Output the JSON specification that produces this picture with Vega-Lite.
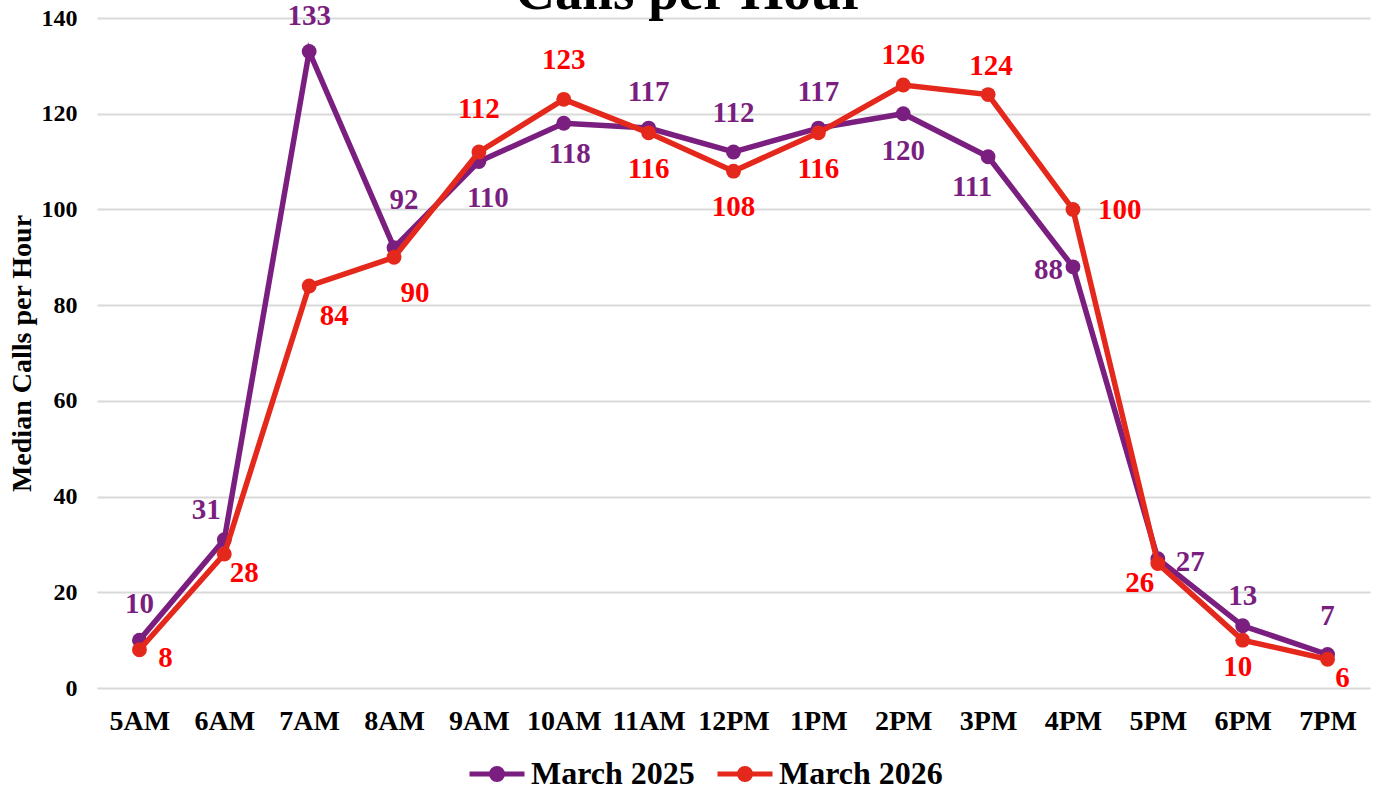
{
  "$schema": "https://vega.github.io/schema/vega-lite/v6.json",
  "width": 1273,
  "height": 670,
  "autosize": {"type": "none"},
  "padding": {"left": 97, "top": 18, "right": 9, "bottom": 102},
  "background": "white",
  "title": {"text": "Calls per Hour", "font": "Liberation Serif", "fontSize": 55, "fontWeight": "bold", "color": "black", "anchor": "middle", "baseline": "alphabetic", "offset": -62, "dx": -43},
  "config": {
    "view": {"stroke": null},
    "text": {"font": "Liberation Serif", "fontSize": 29, "fontWeight": "bold", "baseline": "middle", "align": "center"}
  },
  "data": {"values": [
    {"hour": "5AM", "series": "March 2025", "calls": 10},
    {"hour": "6AM", "series": "March 2025", "calls": 31},
    {"hour": "7AM", "series": "March 2025", "calls": 133},
    {"hour": "8AM", "series": "March 2025", "calls": 92},
    {"hour": "9AM", "series": "March 2025", "calls": 110},
    {"hour": "10AM", "series": "March 2025", "calls": 118},
    {"hour": "11AM", "series": "March 2025", "calls": 117},
    {"hour": "12PM", "series": "March 2025", "calls": 112},
    {"hour": "1PM", "series": "March 2025", "calls": 117},
    {"hour": "2PM", "series": "March 2025", "calls": 120},
    {"hour": "3PM", "series": "March 2025", "calls": 111},
    {"hour": "4PM", "series": "March 2025", "calls": 88},
    {"hour": "5PM", "series": "March 2025", "calls": 27},
    {"hour": "6PM", "series": "March 2025", "calls": 13},
    {"hour": "7PM", "series": "March 2025", "calls": 7},
    {"hour": "5AM", "series": "March 2026", "calls": 8},
    {"hour": "6AM", "series": "March 2026", "calls": 28},
    {"hour": "7AM", "series": "March 2026", "calls": 84},
    {"hour": "8AM", "series": "March 2026", "calls": 90},
    {"hour": "9AM", "series": "March 2026", "calls": 112},
    {"hour": "10AM", "series": "March 2026", "calls": 123},
    {"hour": "11AM", "series": "March 2026", "calls": 116},
    {"hour": "12PM", "series": "March 2026", "calls": 108},
    {"hour": "1PM", "series": "March 2026", "calls": 116},
    {"hour": "2PM", "series": "March 2026", "calls": 126},
    {"hour": "3PM", "series": "March 2026", "calls": 124},
    {"hour": "4PM", "series": "March 2026", "calls": 100},
    {"hour": "5PM", "series": "March 2026", "calls": 26},
    {"hour": "6PM", "series": "March 2026", "calls": 10},
    {"hour": "7PM", "series": "March 2026", "calls": 6}
  ]},
  "encoding": {
    "x": {
      "field": "hour", "type": "ordinal",
      "sort": ["5AM","6AM","7AM","8AM","9AM","10AM","11AM","12PM","1PM","2PM","3PM","4PM","5PM","6PM","7PM"],
      "scale": {"type": "point", "padding": 0.5},
      "axis": {"title": null, "labelAngle": 0, "labelFont": "Liberation Serif", "labelFontSize": 28, "labelFontWeight": "bold", "labelColor": "black", "labelPadding": 19, "ticks": false, "domain": false, "grid": false}
    },
    "y": {
      "field": "calls", "type": "quantitative",
      "scale": {"domain": [0, 140], "nice": false},
      "axis": {"title": "Median Calls per Hour", "values": [0,20,40,60,80,100,120,140], "titleFont": "Liberation Serif", "titleFontSize": 28, "titleFontWeight": "bold", "titleColor": "black", "titleX": -75, "titleY": 335, "titleAngle": -90, "titleAlign": "center", "titleBaseline": "middle", "labelFont": "Liberation Serif", "labelFontSize": 24, "labelFontWeight": "bold", "labelColor": "black", "labelPadding": 20, "ticks": false, "domain": false, "grid": true, "gridColor": "#d9d9d9", "gridWidth": 2}
    }
  },
  "layer": [
    {
      "transform": [{"filter": {"field": "series", "equal": "March 2025"}}],
      "mark": {"type": "line", "strokeWidth": 5.5},
      "encoding": {"color": {"field": "series", "type": "nominal",
        "scale": {"domain": ["March 2025", "March 2026"], "range": ["#7A1F80", "#E4281B"]},
        "legend": {"title": null, "orient": "none", "legendX": 370, "legendY": 726, "direction": "horizontal",
          "labelFont": "Liberation Serif", "labelFontSize": 32, "labelFontWeight": "bold", "labelColor": "black", "labelOffset": 4, "columnPadding": 12, "labelLimit": 400,
          "symbolType": "M-1,0L1,0M-0.2,0A0.2,0.2 0 1,1 0.2,0A0.2,0.2 0 1,1 -0.2,0Z",
          "symbolSize": 3025, "symbolStrokeWidth": 5,
          "encode": {"symbols": {"update": {"fill": {"scale": "color", "field": "value"}, "stroke": {"scale": "color", "field": "value"}, "opacity": {"value": 1}}}}}}}
    },
    {
      "transform": [{"filter": {"field": "series", "equal": "March 2025"}}],
      "mark": {"type": "point", "filled": true, "size": 220, "opacity": 1},
      "encoding": {"color": {"field": "series", "type": "nominal"}}
    },
    {
      "transform": [{"filter": {"field": "series", "equal": "March 2026"}}],
      "mark": {"type": "line", "strokeWidth": 5.5},
      "encoding": {"color": {"field": "series", "type": "nominal"}}
    },
    {
      "transform": [{"filter": {"field": "series", "equal": "March 2026"}}],
      "mark": {"type": "point", "filled": true, "size": 220, "opacity": 1},
      "encoding": {"color": {"field": "series", "type": "nominal"}}
    },
    {"transform": [{"filter": {"and": [{"field": "series", "equal": "March 2025"}, {"field": "hour", "oneOf": ["5AM","7AM","11AM","1PM"]}]}}],
     "mark": {"type": "text", "color": "#7A1F80", "dy": -36}, "encoding": {"text": {"field": "calls", "type": "quantitative"}}},
    {"transform": [{"filter": {"and": [{"field": "series", "equal": "March 2025"}, {"field": "hour", "oneOf": ["12PM","7PM"]}]}}],
     "mark": {"type": "text", "color": "#7A1F80", "dy": -39}, "encoding": {"text": {"field": "calls", "type": "quantitative"}}},
    {"transform": [{"filter": {"and": [{"field": "series", "equal": "March 2025"}, {"field": "hour", "oneOf": ["6PM"]}]}}],
     "mark": {"type": "text", "color": "#7A1F80", "dy": -30}, "encoding": {"text": {"field": "calls", "type": "quantitative"}}},
    {"transform": [{"filter": {"and": [{"field": "series", "equal": "March 2025"}, {"field": "hour", "oneOf": ["6AM"]}]}}],
     "mark": {"type": "text", "color": "#7A1F80", "dx": -18, "dy": -30}, "encoding": {"text": {"field": "calls", "type": "quantitative"}}},
    {"transform": [{"filter": {"and": [{"field": "series", "equal": "March 2025"}, {"field": "hour", "oneOf": ["8AM"]}]}}],
     "mark": {"type": "text", "color": "#7A1F80", "dx": 10, "dy": -48}, "encoding": {"text": {"field": "calls", "type": "quantitative"}}},
    {"transform": [{"filter": {"and": [{"field": "series", "equal": "March 2025"}, {"field": "hour", "oneOf": ["9AM"]}]}}],
     "mark": {"type": "text", "color": "#7A1F80", "dx": 9, "dy": 36}, "encoding": {"text": {"field": "calls", "type": "quantitative"}}},
    {"transform": [{"filter": {"and": [{"field": "series", "equal": "March 2025"}, {"field": "hour", "oneOf": ["10AM"]}]}}],
     "mark": {"type": "text", "color": "#7A1F80", "dx": 6, "dy": 31}, "encoding": {"text": {"field": "calls", "type": "quantitative"}}},
    {"transform": [{"filter": {"and": [{"field": "series", "equal": "March 2025"}, {"field": "hour", "oneOf": ["2PM"]}]}}],
     "mark": {"type": "text", "color": "#7A1F80", "dy": 37}, "encoding": {"text": {"field": "calls", "type": "quantitative"}}},
    {"transform": [{"filter": {"and": [{"field": "series", "equal": "March 2025"}, {"field": "hour", "oneOf": ["3PM"]}]}}],
     "mark": {"type": "text", "color": "#7A1F80", "dx": -16, "dy": 30}, "encoding": {"text": {"field": "calls", "type": "quantitative"}}},
    {"transform": [{"filter": {"and": [{"field": "series", "equal": "March 2025"}, {"field": "hour", "oneOf": ["4PM"]}]}}],
     "mark": {"type": "text", "color": "#7A1F80", "align": "right", "dx": -10, "dy": 3}, "encoding": {"text": {"field": "calls", "type": "quantitative"}}},
    {"transform": [{"filter": {"and": [{"field": "series", "equal": "March 2025"}, {"field": "hour", "oneOf": ["5PM"]}]}}],
     "mark": {"type": "text", "color": "#7A1F80", "align": "left", "dx": 18, "dy": 3}, "encoding": {"text": {"field": "calls", "type": "quantitative"}}},
    {"transform": [{"filter": {"and": [{"field": "series", "equal": "March 2026"}, {"field": "hour", "oneOf": ["5AM"]}]}}],
     "mark": {"type": "text", "color": "#FF0000", "dx": 26, "dy": 8}, "encoding": {"text": {"field": "calls", "type": "quantitative"}}},
    {"transform": [{"filter": {"and": [{"field": "series", "equal": "March 2026"}, {"field": "hour", "oneOf": ["6AM"]}]}}],
     "mark": {"type": "text", "color": "#FF0000", "dx": 20, "dy": 19}, "encoding": {"text": {"field": "calls", "type": "quantitative"}}},
    {"transform": [{"filter": {"and": [{"field": "series", "equal": "March 2026"}, {"field": "hour", "oneOf": ["7AM"]}]}}],
     "mark": {"type": "text", "color": "#FF0000", "dx": 25, "dy": 30}, "encoding": {"text": {"field": "calls", "type": "quantitative"}}},
    {"transform": [{"filter": {"and": [{"field": "series", "equal": "March 2026"}, {"field": "hour", "oneOf": ["8AM"]}]}}],
     "mark": {"type": "text", "color": "#FF0000", "dx": 21, "dy": 36}, "encoding": {"text": {"field": "calls", "type": "quantitative"}}},
    {"transform": [{"filter": {"and": [{"field": "series", "equal": "March 2026"}, {"field": "hour", "oneOf": ["9AM"]}]}}],
     "mark": {"type": "text", "color": "#FF0000", "dy": -43}, "encoding": {"text": {"field": "calls", "type": "quantitative"}}},
    {"transform": [{"filter": {"and": [{"field": "series", "equal": "March 2026"}, {"field": "hour", "oneOf": ["10AM"]}]}}],
     "mark": {"type": "text", "color": "#FF0000", "dy": -39}, "encoding": {"text": {"field": "calls", "type": "quantitative"}}},
    {"transform": [{"filter": {"and": [{"field": "series", "equal": "March 2026"}, {"field": "hour", "oneOf": ["11AM","12PM","1PM"]}]}}],
     "mark": {"type": "text", "color": "#FF0000", "dy": 36}, "encoding": {"text": {"field": "calls", "type": "quantitative"}}},
    {"transform": [{"filter": {"and": [{"field": "series", "equal": "March 2026"}, {"field": "hour", "oneOf": ["2PM"]}]}}],
     "mark": {"type": "text", "color": "#FF0000", "dy": -30}, "encoding": {"text": {"field": "calls", "type": "quantitative"}}},
    {"transform": [{"filter": {"and": [{"field": "series", "equal": "March 2026"}, {"field": "hour", "oneOf": ["3PM"]}]}}],
     "mark": {"type": "text", "color": "#FF0000", "dx": 3, "dy": -29}, "encoding": {"text": {"field": "calls", "type": "quantitative"}}},
    {"transform": [{"filter": {"and": [{"field": "series", "equal": "March 2026"}, {"field": "hour", "oneOf": ["4PM"]}]}}],
     "mark": {"type": "text", "color": "#FF0000", "align": "left", "dx": 25, "dy": 1}, "encoding": {"text": {"field": "calls", "type": "quantitative"}}},
    {"transform": [{"filter": {"and": [{"field": "series", "equal": "March 2026"}, {"field": "hour", "oneOf": ["5PM"]}]}}],
     "mark": {"type": "text", "color": "#FF0000", "dx": -18, "dy": 19}, "encoding": {"text": {"field": "calls", "type": "quantitative"}}},
    {"transform": [{"filter": {"and": [{"field": "series", "equal": "March 2026"}, {"field": "hour", "oneOf": ["6PM"]}]}}],
     "mark": {"type": "text", "color": "#FF0000", "dx": -5, "dy": 27}, "encoding": {"text": {"field": "calls", "type": "quantitative"}}},
    {"transform": [{"filter": {"and": [{"field": "series", "equal": "March 2026"}, {"field": "hour", "oneOf": ["7PM"]}]}}],
     "mark": {"type": "text", "color": "#FF0000", "dx": 15, "dy": 19}, "encoding": {"text": {"field": "calls", "type": "quantitative"}}}
  ]
}
